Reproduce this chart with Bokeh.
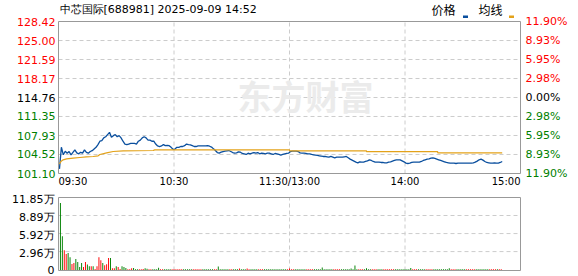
from bokeh.plotting import figure
from bokeh.models import Range1d, ColumnDataSource
from bokeh.layouts import column
from bokeh.embed import file_html
from bokeh.resources import INLINE
from bokeh.core.properties import value

# ---------------- data ----------------
title_text = "中芯国际[688981] 2025-09-09 14:52"
pre_close = 114.76
price_ticks = [128.42, 125.00, 121.59, 118.17, 114.76, 111.35, 107.93, 104.52, 101.10]
pct_labels = ["11.90%", "8.93%", "5.95%", "2.98%", "0.00%", "2.98%", "5.95%", "8.93%", "11.90%"]
time_ticks = [0, 60, 120, 180, 240]
time_labels = ["09:30", "10:30", "11:30/13:00", "14:00", "15:00"]
vol_ticks = [11.85, 8.89, 5.92, 2.96, 0]
vol_labels = ["11.85万", "8.89万", "5.92万", "2.96万", "0"]
legend_labels = ["价格", "均线"]

# minute-by-minute price (09:30 onwards)
prices = [
    101.94, 105.83, 104.46, 105.10, 104.75, 105.05, 104.45, 104.90, 105.35, 104.80,
    104.63, 104.90, 104.75, 105.35, 104.90, 104.75, 105.05, 105.20, 105.50, 105.80,
    106.30, 106.90, 107.00, 107.50, 107.70, 108.10, 108.50, 107.60, 107.90, 108.10,
    107.70, 107.90, 107.50, 106.90, 106.40, 106.30, 106.40, 106.50, 106.50, 106.50,
    106.40, 106.90, 107.10, 107.50, 107.70, 107.50, 107.10, 107.10, 106.90, 106.90,
    106.40, 106.05, 105.95, 106.05, 106.30, 106.10, 106.15, 106.10, 105.80, 105.45,
    105.50, 105.80, 105.80, 105.95, 105.95, 106.10, 106.40, 106.30, 106.25, 106.10,
    105.95, 105.95, 106.05, 106.05, 106.05, 106.05, 106.05, 106.10, 106.00, 105.85,
    105.53, 105.23, 104.87, 104.75, 104.93, 105.05, 105.11, 105.17, 105.23, 105.05,
    104.87, 104.75, 104.81, 104.99, 104.93, 104.70, 104.64, 104.52, 104.75, 104.64,
    104.75, 104.87, 104.75, 104.87, 104.64, 104.75, 104.70, 104.64, 104.75, 104.75,
    104.64, 104.52, 104.70, 104.64, 104.52, 104.40, 104.52, 104.64, 104.70, 104.75,
    105.05, 105.11, 105.11, 105.11, 105.05, 104.81, 104.75, 104.75, 104.70, 104.64,
    104.64, 104.52, 104.46, 104.40, 104.34, 104.28, 104.22, 104.16, 104.16, 104.10,
    104.04, 104.16, 104.04, 103.92, 104.04, 104.04, 104.04, 104.04, 104.10, 104.16,
    103.92, 103.68, 103.50, 103.32, 103.14, 103.02, 103.20, 103.14, 103.14, 103.26,
    103.38, 103.56, 103.44, 103.26, 103.14, 103.14, 103.14, 103.08, 103.08, 103.02,
    103.02, 103.14, 103.20, 103.32, 103.44, 103.56, 103.56, 103.56, 103.38, 103.20,
    102.96, 102.90, 102.96, 103.08, 103.14, 103.14, 103.14, 103.14, 103.26, 103.44,
    103.56, 103.68, 103.74, 103.86, 103.92, 103.80, 103.68, 103.56, 103.44, 103.32,
    103.20, 103.08, 103.02, 102.96, 102.96, 102.96, 102.90, 102.96, 102.96, 102.96,
    102.96, 102.96, 102.96, 102.96, 102.96, 103.02, 103.14, 103.32, 103.56, 103.68,
    103.50, 103.26, 103.08, 103.02, 102.96, 102.96, 103.02, 102.96, 102.96, 103.08,
    103.26,
]

# average-price line, read at its break points (minute, price)
avg_minutes = [0.5, 1.4, 2.4, 4.2, 7.6, 11.1, 14.5, 18.0, 20.6, 21.5, 25.0, 28.4,
               33.6, 49.2, 50.0, 120.0, 120.0, 160.0, 160.0, 197.0, 197.0, 230.5]
avg_prices = [102.84, 103.32, 103.56, 103.74, 103.86, 103.98, 104.10, 104.16, 104.28,
              104.52, 104.81, 105.05, 105.17, 105.23, 105.35, 105.35, 105.17, 105.17,
              105.02, 105.02, 104.82, 104.82]

# volume per minute (万), and direction (R = up, G = down)
volumes = [
    10.96, 5.48, 3.18, 2.58, 2.74, 2.03, 0.93, 1.10, 1.75, 1.26,
    0.44, 1.10, 0.44, 1.26, 0.82, 0.55, 0.55, 0.55, 0.11, 0.55,
    2.03, 1.53, 1.10, 0.71, 0.88, 1.92, 1.92, 0.22, 0.22, 0.55,
    0.44, 0.11, 0.55, 0.44, 0.27, 0.04, 0.04, 0.20, 0.25, 0.04,
    0.04, 0.06, 0.04, 0.08, 0.20, 0.15, 0.04, 0.04, 0.06, 0.04,
    0.04, 0.30, 0.04, 0.04, 0.06, 0.04, 0.04, 0.04, 0.06, 0.04,
    0.04, 0.04, 0.04, 0.06, 0.04, 0.04, 0.04, 0.04, 0.04, 0.04,
    0.06, 0.04, 0.04, 0.04, 0.04, 0.04, 0.06, 0.04, 0.04, 0.04,
    0.04, 0.04, 0.50, 0.04, 0.04, 0.04, 0.06, 0.04, 0.04, 0.04,
    0.04, 0.04, 0.04, 0.18, 0.04, 0.04, 0.04, 0.18, 0.04, 0.04,
    0.04, 0.04, 0.06, 0.04, 0.04, 0.04, 0.04, 0.04, 0.06, 0.04,
    0.04, 0.04, 0.04, 0.04, 0.06, 0.04, 0.04, 0.04, 0.04, 0.18,
    0.04, 0.04, 0.04, 0.06, 0.04, 0.04, 0.04, 0.04, 0.04, 0.04,
    0.04, 0.06, 0.04, 0.04, 0.04, 0.04, 0.35, 0.04, 0.04, 0.04,
    0.04, 0.04, 0.04, 0.06, 0.04, 0.04, 0.04, 0.04, 0.04, 0.04,
    0.04, 0.18, 0.04, 0.67, 0.04, 0.04, 0.04, 0.04, 0.04, 0.20,
    0.04, 0.04, 0.04, 0.06, 0.04, 0.04, 0.04, 0.04, 0.04, 0.04,
    0.04, 0.04, 0.06, 0.04, 0.04, 0.04, 0.04, 0.04, 0.04, 0.04,
    0.04, 0.04, 0.25, 0.04, 0.04, 0.04, 0.04, 0.06, 0.04, 0.04,
    0.04, 0.04, 0.04, 0.04, 0.04, 0.06, 0.04, 0.04, 0.04, 0.04,
    0.04, 0.04, 0.20, 0.04, 0.04, 0.04, 0.04, 0.04, 0.06, 0.04,
    0.04, 0.04, 0.04, 0.04, 0.04, 0.04, 0.06, 0.04, 0.04, 0.04,
    0.04, 0.04, 0.04, 0.04, 0.06, 0.04, 0.04, 0.04, 0.04, 0.04,
]
vol_dirs = (
    "GGRRGGRRGG" "GGRRGGRGRR" "RRGRRRGRRG" "RRGGGRRRGG" "GRRRGGRRGG"
    "GGRRGGGGRR" "RRRRGGGGGR" "RRRRGGGGGG" "RRGGGGGGRR" "GGGRGGGRRG"
    "GGGRRRGGGG" "GGGGGGGGRR" "RRGGGGGGRR" "RRGGGGGGGG" "GGRRRRGGGG"
    "GGGGGRRRGG" "GGRRRGGGRR" "RRRRGGGGGG" "GGGRRRGGGG" "RRRRGGGGGG"
    "GGGRRRGGGG" "GRRRRRGGGG" "GGGRRRRGRR"
)

# ---------------- styling / layout ----------------
RED = "#ff0000"
GREEN = "#008000"
BLUE = "#0a4f9e"
GOLD = "#e3a21a"
GRID = "#cccccc"
FRAME = "#999999"
FONT = value("DejaVu Sans")
CJK = value("Noto Sans CJK SC")

W = 578
H1, H2 = 192, 84
LEFT, RIGHT = 58, 58            # px margins around the chart boxes
TOP1, BOT1 = 21, 19
TOP2, BOT2 = 5, 6

t0, t1 = time_ticks[0], time_ticks[-1]
pmin, pmax = price_ticks[-1], price_ticks[0]
vmin, vmax = -0.15, vol_ticks[0]

xpp = (t1 - t0) / (W - LEFT - RIGHT)          # minutes per pixel
ypp1 = (pmax - pmin) / (H1 - TOP1 - BOT1)     # price per pixel
ypp2 = (vmax - vmin) / (H2 - TOP2 - BOT2)     # volume per pixel
xr = Range1d(t0 - LEFT * xpp, t1 + RIGHT * xpp)


def make_fig(h, ymin, ymax):
    f = figure(width=W, height=h, output_backend="svg", toolbar_location=None,
               x_range=xr, y_range=Range1d(ymin, ymax),
               x_axis_location=None, y_axis_location=None,
               min_border_left=0, min_border_right=0, min_border_top=0, min_border_bottom=0)
    f.grid.visible = False
    f.outline_line_color = None
    f.background_fill_color = "white"
    f.border_fill_color = "white"
    return f


# ---------------- price panel ----------------
p1 = make_fig(H1, pmin - BOT1 * ypp1, pmax + TOP1 * ypp1)

inner_p = price_ticks[1:-1]
p1.segment(x0=[t0] * len(inner_p), x1=[t1] * len(inner_p), y0=inner_p, y1=inner_p,
           line_color=GRID, line_dash="4 3", line_width=1)
inner_t = time_ticks[1:-1]
p1.segment(x0=inner_t, x1=inner_t, y0=[pmin] * len(inner_t), y1=[pmax] * len(inner_t),
           line_color=GRID, line_dash="4 3", line_width=1)

# watermark
p1.text(x=[93], y=[115.1], text=["东方财富"], text_font=CJK, text_font_size="34px",
        text_font_style="bold", text_color="#ebebeb", text_baseline="middle")

price_x = [i + 0.5 for i in range(len(prices))]
p1.line(price_x, prices, line_color=BLUE, line_width=1.3)
p1.line(avg_minutes, avg_prices, line_color=GOLD, line_width=1.2)

p1.quad(left=[t0], right=[t1], bottom=[pmin], top=[pmax], fill_color=None,
        line_color=FRAME, line_width=1)


def side_color(v):
    if abs(v - pre_close) < 1e-6:
        return "#000000"
    return RED if v > pre_close else GREEN


tick_colors = [side_color(t) for t in price_ticks]
p1.text(x=[t0] * len(price_ticks), y=price_ticks, text=["%.2f" % t for t in price_ticks],
        x_offset=-3, text_align="right", text_baseline="middle", text_color=tick_colors,
        text_font=FONT, text_font_size="11px")
p1.text(x=[t1] * len(price_ticks), y=price_ticks, text=pct_labels,
        x_offset=5, text_align="left", text_baseline="middle", text_color=tick_colors,
        text_font=FONT, text_font_size="11px")

aligns = ["left", "center", "center", "center", "right"]
p1.text(x=time_ticks, y=[pmin] * len(time_ticks), text=time_labels, y_offset=8,
        text_align=aligns, text_baseline="middle", text_color="#000000",
        text_font=FONT, text_font_size="10px")

# title and legend
p1.text(x=[t0], y=[pmax], text=[title_text], x_offset=1, y_offset=-12,
        text_align="left", text_baseline="middle", text_color="#000000",
        text_font=FONT, text_font_size="11px")
p1.text(x=[t1, t1], y=[pmax, pmax], text=legend_labels, x_offset=[-89, -42], y_offset=-12,
        text_align="left", text_baseline="middle", text_color="#000000",
        text_font=CJK, text_font_size="12px")
p1.rect(x=[t1 - 55 * xpp, t1 - 9 * xpp], y=[pmax + 4.8 * ypp1] * 2,
        width=5 * xpp, height=2.5 * ypp1, fill_color=[BLUE, GOLD], line_color=None)

# ---------------- volume panel ----------------
p2 = make_fig(H2, vmin - BOT2 * ypp2, vmax + TOP2 * ypp2)

inner_v = vol_ticks[1:-1]
p2.segment(x0=[t0] * len(inner_v), x1=[t1] * len(inner_v), y0=inner_v, y1=inner_v,
           line_color=GRID, line_dash="4 3", line_width=1)
p2.segment(x0=inner_t, x1=inner_t, y0=[vmin] * len(inner_t), y1=[vmax] * len(inner_t),
           line_color=GRID, line_dash="4 3", line_width=1)

vol_x = [i + 1 for i in range(len(volumes))]
vol_colors = [RED if d == "R" else GREEN for d in vol_dirs]
vsrc = ColumnDataSource(dict(x=vol_x, top=volumes, c=vol_colors))
p2.vbar(x="x", top="top", bottom=vmin, width=0.5, source=vsrc, fill_color="c",
        line_color=None)

p2.quad(left=[t0], right=[t1], bottom=[vmin], top=[vmax], fill_color=None,
        line_color=FRAME, line_width=1)

p2.text(x=[t0] * len(vol_ticks), y=vol_ticks, text=vol_labels, x_offset=-4,
        y_offset=[2, 2, 2, 2, 0], text_align="right", text_baseline="middle",
        text_color="#000000", text_font=FONT, text_font_size="11px")

layout = column(p1, p2, spacing=0)
open("out.html", "w").write(file_html(layout, INLINE))
